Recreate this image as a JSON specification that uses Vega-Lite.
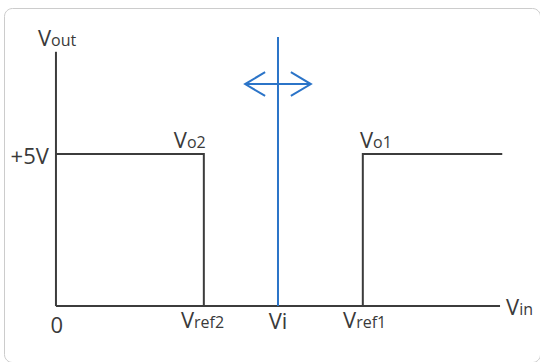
{
  "$schema": "https://vega.github.io/schema/vega-lite/v6.json",
  "autosize": "none",
  "width": 536,
  "height": 354,
  "padding": {"left": 4, "top": 8, "right": 0, "bottom": 0},
  "config": {
    "view": {"stroke": "#cccccc", "strokeWidth": 1, "cornerRadius": 8},
    "text": {"font": "Open Sans", "color": "#3a3a3a"}
  },
  "datasets": {
    "axes": [
      {"name": "Vout axis", "vin": 0, "vin2": 0, "vout": 0, "vout2": 8.36},
      {"name": "Vin axis", "vin": 0, "vin2": 10, "vout": 0, "vout2": 0}
    ],
    "wave": [
      {"series": "Vo2", "order": 1, "vin": 0, "vout": 5},
      {"series": "Vo2", "order": 2, "vin": 3.33, "vout": 5},
      {"series": "Vo2", "order": 3, "vin": 3.33, "vout": 0},
      {"series": "Vo1", "order": 1, "vin": 6.91, "vout": 0},
      {"series": "Vo1", "order": 2, "vin": 6.91, "vout": 5},
      {"series": "Vo1", "order": 3, "vin": 10.05, "vout": 5}
    ],
    "vi": [
      {"name": "Vi", "vin": 5, "vout": 0, "vout2": 8.85}
    ],
    "arrow": [
      {"part": "left head", "order": 1, "vin": 4.71, "vout": 7.69},
      {"part": "left head", "order": 2, "vin": 4.26, "vout": 7.3},
      {"part": "left head", "order": 3, "vin": 4.71, "vout": 6.91},
      {"part": "shaft", "order": 1, "vin": 4.26, "vout": 7.3},
      {"part": "shaft", "order": 2, "vin": 5.74, "vout": 7.3},
      {"part": "right head", "order": 1, "vin": 5.29, "vout": 7.69},
      {"part": "right head", "order": 2, "vin": 5.74, "vout": 7.3},
      {"part": "right head", "order": 3, "vin": 5.29, "vout": 6.91}
    ],
    "pairLabels": [
      {"main": "V", "sub": "out", "vin": -0.11, "vout": 8.55},
      {"main": "V", "sub": "o2", "vin": 2.95, "vout": 5.2},
      {"main": "V", "sub": "o1", "vin": 7.14, "vout": 5.2},
      {"main": "V", "sub": "ref2", "vin": 3.11, "vout": -0.72},
      {"main": "V", "sub": "ref1", "vin": 6.76, "vout": -0.72},
      {"main": "V", "sub": "in", "vin": 10.43, "vout": -0.3}
    ],
    "centerLabels": [
      {"text": "Vi", "vin": 5, "vout": -0.76},
      {"text": "0", "vin": 0.02, "vout": -0.89}
    ],
    "rightLabels": [
      {"text": "+5V", "vin": -0.16, "vout": 4.67}
    ]
  },
  "layer": [
    {
      "data": {"name": "axes"},
      "mark": {"type": "rule", "color": "#3c3c3c", "strokeWidth": 2},
      "encoding": {
        "x": {"field": "vin", "type": "quantitative", "axis": null,
              "scale": {"domain": [-1.17, 10.9], "nice": false, "zero": false}},
        "x2": {"field": "vin2"},
        "y": {"field": "vout", "type": "quantitative", "axis": null,
              "scale": {"domain": [-1.84, 9.8], "nice": false, "zero": false}},
        "y2": {"field": "vout2"}
      }
    },
    {
      "data": {"name": "wave"},
      "mark": {"type": "line", "color": "#3c3c3c", "strokeWidth": 2, "strokeJoin": "miter"},
      "encoding": {
        "x": {"field": "vin", "type": "quantitative"},
        "y": {"field": "vout", "type": "quantitative"},
        "detail": {"field": "series"},
        "order": {"field": "order"}
      }
    },
    {
      "data": {"name": "vi"},
      "mark": {"type": "rule", "color": "#2b74c8", "strokeWidth": 2},
      "encoding": {
        "x": {"field": "vin", "type": "quantitative"},
        "y": {"field": "vout", "type": "quantitative"},
        "y2": {"field": "vout2"}
      }
    },
    {
      "data": {"name": "arrow"},
      "mark": {"type": "line", "color": "#2b74c8", "strokeWidth": 2, "strokeJoin": "miter"},
      "encoding": {
        "x": {"field": "vin", "type": "quantitative"},
        "y": {"field": "vout", "type": "quantitative"},
        "detail": {"field": "part"},
        "order": {"field": "order"}
      }
    },
    {
      "data": {"name": "pairLabels"},
      "mark": {"type": "text", "align": "right", "baseline": "alphabetic", "fontSize": 22},
      "encoding": {
        "x": {"field": "vin", "type": "quantitative"},
        "y": {"field": "vout", "type": "quantitative"},
        "text": {"field": "main"}
      }
    },
    {
      "data": {"name": "pairLabels"},
      "mark": {"type": "text", "align": "left", "baseline": "alphabetic", "fontSize": 16},
      "encoding": {
        "x": {"field": "vin", "type": "quantitative"},
        "y": {"field": "vout", "type": "quantitative"},
        "text": {"field": "sub"}
      }
    },
    {
      "data": {"name": "centerLabels"},
      "mark": {"type": "text", "align": "center", "baseline": "alphabetic", "fontSize": 22},
      "encoding": {
        "x": {"field": "vin", "type": "quantitative"},
        "y": {"field": "vout", "type": "quantitative"},
        "text": {"field": "text"}
      }
    },
    {
      "data": {"name": "rightLabels"},
      "mark": {"type": "text", "align": "right", "baseline": "alphabetic", "fontSize": 22},
      "encoding": {
        "x": {"field": "vin", "type": "quantitative"},
        "y": {"field": "vout", "type": "quantitative"},
        "text": {"field": "text"}
      }
    }
  ]
}
